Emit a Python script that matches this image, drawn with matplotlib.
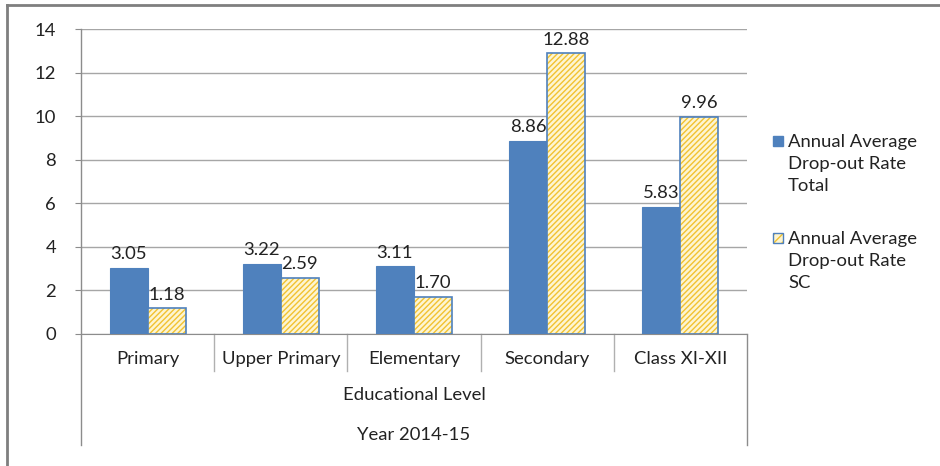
import numpy as np
import matplotlib.pyplot as plt
from matplotlib.lines import Line2D
from matplotlib.patches import Rectangle

plt.rcParams['font.family'] = ['Lato', 'DejaVu Sans']

levels = ["Primary", "Upper Primary", "Elementary", "Secondary", "Class XI-XII"]
total = [3.05, 3.22, 3.11, 8.86, 5.83]
sc = [1.18, 2.59, 1.70, 12.88, 9.96]
legend_labels = ["Annual Average\nDrop-out Rate\nTotal", "Annual Average\nDrop-out Rate\nSC"]

blue = "#4f81bd"
gold = "#f2c230"
pale = "#fdf5d2"
gray = "#8c8c8c"
txt = "#222222"
fs = 13.3

fig = plt.figure(figsize=(9.4, 4.66), dpi=100)
ax = fig.add_axes([81/940, 1-334/466, 666/940, 305/466])

x = np.arange(len(levels))
w = 0.285
b1 = ax.bar(x - w/2, total, w, color=blue, edgecolor=blue, linewidth=0.8, zorder=3)
b2 = ax.bar(x + w/2, sc, w, color=pale, edgecolor=gold, hatch="//////", linewidth=0, zorder=3)
ax.bar(x + w/2, sc, w, color="none", edgecolor=blue, linewidth=1.2, zorder=4)

ax.bar_label(b1, fmt="%.2f", padding=4, fontsize=fs, color=txt)
ax.bar_label(b2, fmt="%.2f", padding=4, fontsize=fs, color=txt)

ax.set_xlim(-0.5, 4.5)
ax.set_ylim(0, 14)
ax.set_yticks(range(0, 15, 2))
ax.tick_params(axis="y", length=4, color=gray, labelsize=fs, labelcolor=txt, pad=14)
ax.set_xticks(x)
ax.set_xticklabels(levels, fontsize=fs, color=txt)
ax.tick_params(axis="x", length=0, pad=12)
ax.grid(axis="y", color="#a6a6a6", linewidth=1, zorder=0)
for s in ["top", "right"]:
    ax.spines[s].set_visible(False)
ax.spines["left"].set_visible(False)
ax.spines["bottom"].set_color(gray)

# multi-level category axis lines
for i in range(1, 5):
    ax.add_line(Line2D([i - 0.5, i - 0.5], [0, -0.121], transform=ax.get_xaxis_transform(),
                       color="#b0b0b0", lw=1, clip_on=False))
ax.add_line(Line2D([-0.5, -0.5], [1, -0.364], transform=ax.get_xaxis_transform(),
                   color=gray, lw=1, clip_on=False))
ax.add_line(Line2D([4.5, 4.5], [0, -0.364], transform=ax.get_xaxis_transform(),
                   color=gray, lw=1, clip_on=False))

ax.text(0.5, -0.20, "Educational Level", transform=ax.transAxes, ha="center", va="center",
        fontsize=fs, color=txt)
ax.text(0.5, -0.33, "Year 2014-15", transform=ax.transAxes, ha="center", va="center",
        fontsize=fs, color=txt)

# outer chart frame
fig.add_artist(Line2D([7/940, 7/940], [0, 1-5/466], color="#7f7f7f", lw=2))
fig.add_artist(Line2D([7/940, 1], [1-5/466, 1-5/466], color="#7f7f7f", lw=2))

# legend
for k, (lab, ty) in enumerate(zip(legend_labels, [141, 238])):
    if k == 0:
        fig.add_artist(Rectangle((773/940, 1-(ty+5)/466), 10/940, 10/466, facecolor=blue,
                                 edgecolor=blue, transform=fig.transFigure))
    else:
        fig.add_artist(Rectangle((773/940, 1-(ty+5)/466), 10/940, 10/466, facecolor=pale,
                                 edgecolor=gold, hatch="////", lw=0, transform=fig.transFigure))
        fig.add_artist(Rectangle((773/940, 1-(ty+5)/466), 10/940, 10/466, facecolor="none",
                                 edgecolor=blue, lw=1, transform=fig.transFigure))
    fig.text(788/940, 1-(ty-7)/466, lab, ha="left", va="top", fontsize=fs, color=txt,
             linespacing=1.48)

fig.savefig("out.png", dpi=100)
